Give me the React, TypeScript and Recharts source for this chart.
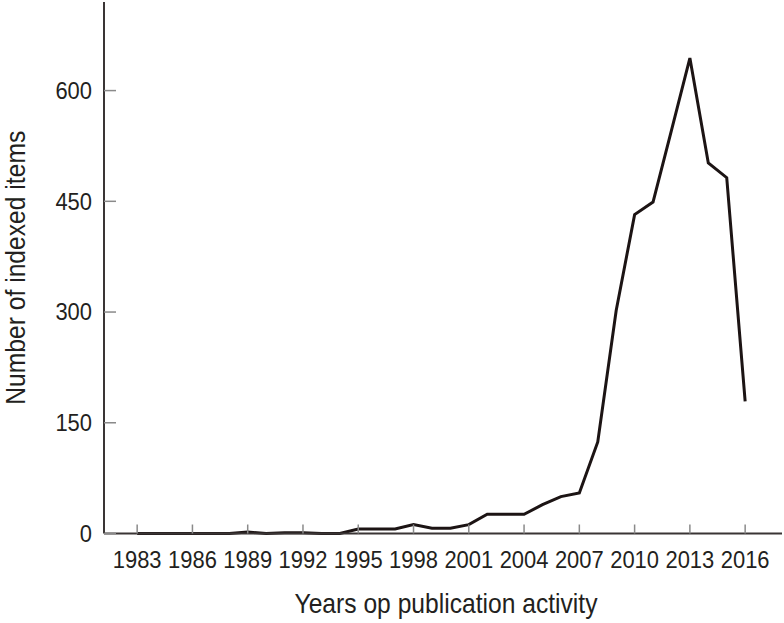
import React from "react";
import { LineChart, Line, XAxis, YAxis, Label } from "recharts";

// publication years and indexed item counts
const years = [
  1983, 1984, 1985, 1986, 1987, 1988, 1989, 1990, 1991, 1992, 1993, 1994,
  1995, 1996, 1997, 1998, 1999, 2000, 2001, 2002, 2003, 2004, 2005, 2006,
  2007, 2008, 2009, 2010, 2011, 2012, 2013, 2014, 2015, 2016,
];
const counts = [
  0, 0, 0, 0, 0, 0, 2, 0, 1, 1, 0, 0,
  6, 6, 6, 12, 7, 7, 12, 26, 26, 26, 39, 50,
  55, 124, 302, 432, 449, 546, 644, 502, 482, 179,
];
const xTicks = [1983, 1986, 1989, 1992, 1995, 1998, 2001, 2004, 2007, 2010, 2013, 2016];
const yTicks = [0, 150, 300, 450, 600];

const data = years.map((year, i) => ({ year, count: counts[i] }));

const INK = "#231f20";
const FONT = "'Liberation Sans', Arial, sans-serif";
// the figure uses a condensed face; squeeze Liberation Sans to the same widths
const DIGIT_W = 12.2;

const XTick = ({ x, y, payload }: any) => {
  const s = String(payload.value);
  return (
    <text
      x={x}
      y={y}
      dy="0.71em"
      textAnchor="middle"
      fill={INK}
      fontSize={23}
      fontFamily={FONT}
      textLength={s.length * DIGIT_W}
      lengthAdjust="spacingAndGlyphs"
    >
      {s}
    </text>
  );
};

const YTick = ({ x, y, payload }: any) => {
  const s = String(payload.value);
  return (
    <text
      x={x}
      y={y}
      dy="0.36em"
      textAnchor="end"
      fill={INK}
      fontSize={23}
      fontFamily={FONT}
      textLength={s.length * DIGIT_W}
      lengthAdjust="spacingAndGlyphs"
    >
      {s}
    </text>
  );
};

const XTitle = ({ viewBox }: any) => (
  <text
    x={viewBox.x + viewBox.width / 2 + 3}
    y={viewBox.y + viewBox.height - 10}
    textAnchor="middle"
    fill={INK}
    fontSize={28}
    fontFamily={FONT}
    textLength={303}
    lengthAdjust="spacingAndGlyphs"
  >
    Years op publication activity
  </text>
);

const YTitle = ({ viewBox }: any) => {
  const cx = 25;
  const cy = viewBox.y + viewBox.height / 2;
  return (
    <text
      x={cx}
      y={cy}
      transform={`rotate(-90, ${cx}, ${cy})`}
      textAnchor="middle"
      fill={INK}
      fontSize={28}
      fontFamily={FONT}
      textLength={274}
      lengthAdjust="spacingAndGlyphs"
    >
      Number of indexed items
    </text>
  );
};

export default function App() {
  return (
    <div style={{ position: "absolute", left: 0, top: 0, background: "#fff" }}>
      <LineChart
        width={784}
        height={623}
        data={data}
        margin={{ top: 2, right: 2, bottom: 0, left: 0 }}
      >
        <XAxis
          dataKey="year"
          type="number"
          domain={[1981.2, 2018]}
          ticks={xTicks}
          interval={0}
          height={89.5}
          axisLine={{ stroke: "#3a3535", strokeWidth: 2 }}
          tickLine={{ stroke: "#8a8a8a", strokeWidth: 1.5 }}
          tickSize={-9}
          tickMargin={27}
          tick={<XTick />}
        >
          <Label content={<XTitle />} />
        </XAxis>
        <YAxis
          type="number"
          domain={[0, 720]}
          ticks={yTicks}
          interval={0}
          width={104}
          axisLine={{ stroke: "#3a3535", strokeWidth: 2 }}
          tickLine={{ stroke: "#8a8a8a", strokeWidth: 1.5 }}
          tickSize={-12}
          tickMargin={24}
          tick={<YTick />}
        >
          <Label content={<YTitle />} />
        </YAxis>
        <Line
          type="linear"
          dataKey="count"
          stroke="#1c1414"
          strokeWidth={3}
          dot={false}
          isAnimationActive={false}
        />
      </LineChart>
    </div>
  );
}
